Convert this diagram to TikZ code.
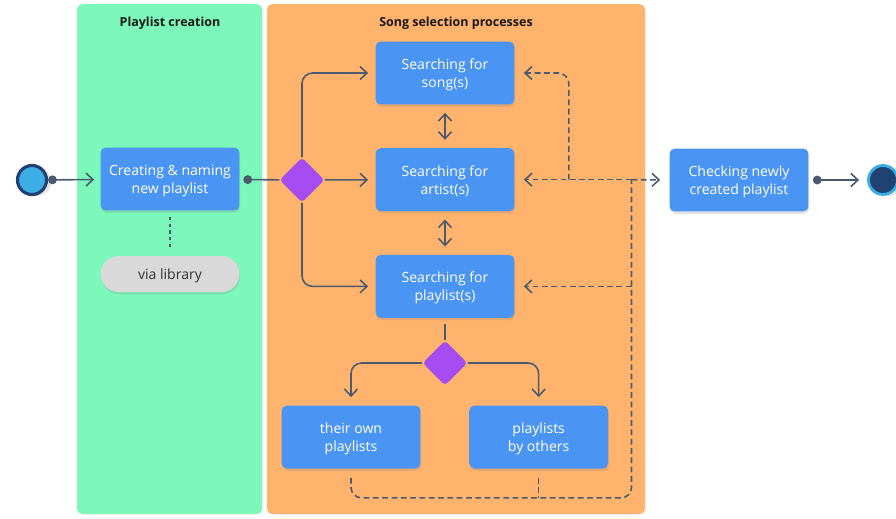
\documentclass[tikz,border=0pt]{standalone}
\usepackage{fontspec}
\setmainfont{Open Sans}
\usetikzlibrary{arrows.meta,positioning,calc,shapes.geometric,shadows}
\definecolor{lanegreen}{HTML}{7CF9BA}
\definecolor{laneorange}{HTML}{FFB36C}
\definecolor{actblue}{HTML}{4A95F3}
\definecolor{decpurple}{HTML}{A64DF2}
\definecolor{pillgray}{HTML}{D9D9D9}
\definecolor{linegray}{HTML}{4B5A6E}
\definecolor{startblue}{HTML}{3BAEE3}
\definecolor{navy}{HTML}{1F4272}
\tikzset{
  act/.style={fill=actblue,rounded corners=3pt,align=center,text=white,font=\fontsize{8}{10.2}\selectfont,minimum width=2.78cm,minimum height=1.26cm,inner sep=2pt,text depth=0pt,drop shadow={opacity=0.22,shadow xshift=0.4pt,shadow yshift=-1.3pt}},
  pill/.style={act,fill=pillgray,text=black!80,minimum height=0.72cm,rounded corners=0.36cm},
  dec/.style={diamond,fill=decpurple,minimum width=0.9cm,minimum height=0.9cm,inner sep=0pt,rounded corners=2pt},
  lane/.style={rounded corners=3pt,minimum height=10.2cm,inner sep=0pt,drop shadow={opacity=0.12,shadow xshift=0.6pt,shadow yshift=-0.6pt}},
  title/.style={font=\fontsize{7.1}{9}\selectfont\bfseries,text=black!90},
  flow/.style={draw=linegray,line width=0.9pt,-{Straight Barb[length=1.4mm,width=2.6mm]}},
}

\begin{document}
\begin{tikzpicture}[x=0.02cm,y=-0.02cm,
  dotflow/.style={flow,{Circle[length=5pt]}-{Straight Barb[length=1.4mm,width=2.6mm]}},
  dotline/.style={flow,{Circle[length=5pt]}-},
  bflow/.style={flow,{Straight Barb[length=1.4mm,width=2.6mm]}-{Straight Barb[length=1.4mm,width=2.6mm]},shorten <=0.16cm,shorten >=0.16cm},
  dflow/.style={flow,dash pattern=on 3.3pt off 2pt,shorten >=0.18cm},
  dline/.style={draw=linegray,line width=0.9pt,dash pattern=on 3.3pt off 2pt}]
  \useasboundingbox[fill=white] (0,0) rectangle (896,518);
  % swimlanes
  \node[lane,fill=lanegreen,minimum width=3.7cm] (lcreate) at (169.5,259) {};
  \node[lane,fill=laneorange,minimum width=7.56cm] (lselect) at (456,259) {};
  \node[title] (tcreate) at (170,23) {Playlist creation};
  \node[title] (tselect) at (456,23) {Song selection processes};
  % start / end
  \node[circle,fill=startblue,draw=navy,line width=1.8pt,minimum size=0.58cm,drop shadow={opacity=0.2,shadow yshift=-1pt}] (start) at (32,180) {};
  \node[circle,fill=navy,draw=startblue,line width=1.6pt,minimum size=0.58cm,drop shadow={opacity=0.2,shadow yshift=-1pt}] (stop) at (883,180) {};
  % playlist creation
  \node[act] (crt) at (170,179) {Creating \& naming\\new playlist};
  \node[pill] (lib) at (170,274) {via library};
  % song selection
  \node[dec] (d1) at (302,180) {};
  \node[act] (song) at (445,73) {Searching for\\song(s)};
  \node[act,below=0.86cm of song] (art) {Searching for\\artist(s)};
  \node[act,below=0.86cm of art] (pls) {Searching for\\playlist(s)};
  \node[dec] (d2) at (445,363) {};
  \node[act] (own) at (351,437) {their own\\playlists};
  \node[act,right=0.96cm of own] (oth) {playlists\\by others};
  \node[act] (chk) at (739,180) {Checking newly\\created playlist};
  \coordinate (jb) at ([xshift=0.46cm,yshift=-0.58cm]oth.south east);
  \coordinate (jt) at ([xshift=1.08cm]art.east);
  % solid connectors
  \draw[dotflow,shorten >=0.12cm] (start) -- (crt);
  \draw[dotline,shorten <=0.07cm] (crt) -- (d1);
  \draw[linegray,line width=0.9pt,dash pattern=on 2pt off 1.8pt,shorten <=0.12cm,shorten >=0.12cm] (crt) -- (lib);
  \draw[flow,rounded corners=6pt,shorten >=0.14cm] (d1.north) |- (song.west);
  \draw[flow,shorten >=0.14cm] (d1) -- (art);
  \draw[flow,rounded corners=6pt,shorten >=0.14cm] (d1.south) |- (pls.west);
  \foreach \a/\b in {song/art,art/pls} \draw[bflow] (\a) -- (\b);
  \draw[flow,-,shorten <=0.12cm] (pls) -- (d2);
  \draw[flow,rounded corners=6pt,shorten >=0.16cm] (d2.west) -| (own.north);
  \draw[flow,rounded corners=6pt,shorten >=0.16cm] (d2.east) -| (oth.north);
  \draw[dotflow,shorten <=0.08cm,shorten >=0.16cm] (chk) -- (stop);
  % dashed returns
  \draw[dline,rounded corners=6pt,shorten <=0.18cm] (own.south) -- (own.south |- jb) -- (jb) -- (jb |- art.east);
  \draw[dline,shorten <=0.18cm] (oth.south) -- (oth.south |- jb);
  \draw[dflow] (jb |- art.east) -- (chk.west);
  \draw[dflow] (jb |- art.east) -- (art.east);
  \draw[dflow] (jb |- pls.east) -- (pls.east);
  \draw[dflow,rounded corners=6pt] (jt) |- (song.east);
\end{tikzpicture}
\end{document}
